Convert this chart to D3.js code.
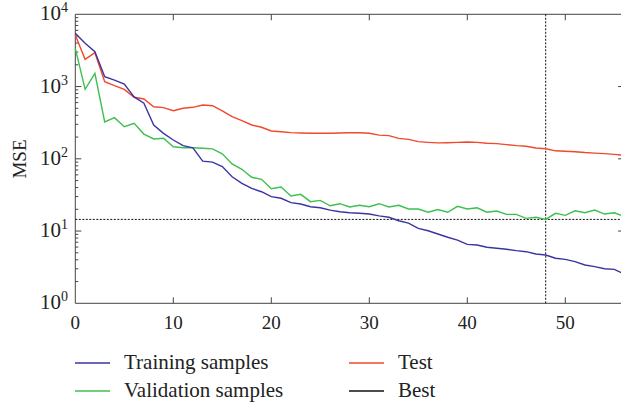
<!DOCTYPE html>
<html>
<head>
<meta charset="utf-8">
<script src="https://cdn.jsdelivr.net/npm/d3@7"></script>
<style>
  body { margin: 0; background: #fff; }
  svg { display: block; }
  text { font-family: "Liberation Serif", "Times New Roman", serif; fill: #222; }
</style>
</head>
<body>
<script>
// epochs 0..56
const epochs = d3.range(0, 57)

const training = [5460, 3980, 3030, 1370, 1230, 1085, 720, 590, 294, 225,
  182, 152, 142, 93, 90, 78, 56.5, 45.8, 39, 35,
  29.9, 28.4, 24.7, 23.7, 21.7, 21, 19.5, 18.5, 17.9, 17.6,
  17.2, 16.2, 15.5, 13.9, 12.9, 10.9, 10.1, 9.1, 8.2, 7.5,
  6.55, 6.4, 5.96, 5.77, 5.59, 5.35, 5.18, 4.81, 4.66, 4.2,
  4.06, 3.77, 3.39, 3.22, 3.01, 2.95, 2.55]

const validation = [3380, 916, 1525, 323, 371, 278, 310, 220, 188, 192,
  147, 142, 142, 140, 137, 117, 84.8, 71.5, 55.5, 52,
  38.5, 40.7, 30.5, 32.2, 25.5, 26.6, 22.4, 23.9, 21.5, 22.7,
  21.7, 23.9, 21.5, 22.7, 20.2, 20.2, 18.2, 19.9, 18.2, 22,
  20.2, 21, 18.2, 18.9, 17, 17, 15, 15.5, 14.5, 17.6,
  16.5, 19.1, 17.9, 19.5, 17.2, 17.9, 16]

const test = [5170, 2380, 2940, 1167, 1027, 915, 710, 673, 526, 510,
  463, 500, 516, 556, 543, 459, 383, 337, 294, 273,
  243, 237, 230, 228, 226, 226, 226, 228, 229, 229,
  226, 213, 209, 192, 186, 173, 169, 166, 167, 169,
  171, 169, 164, 162, 157, 152, 149, 141, 138, 129,
  127, 125, 122, 120, 118, 115, 112]

const bestEpoch = 48
const bestValue = 14.5

const xTicks = [0, 10, 20, 30, 40, 50]
const yPowers = [0, 1, 2, 3, 4]

const seriesNames = ['Training samples', 'Validation samples', 'Test', 'Best']
const seriesColors = ['#3a35a0', '#3cc04e', '#f0492b', '#111']

const width = 621, height = 404
const margin = {left: 75.3, top: 14.3, bottom: 303.3}

const svg = d3.select('body').append('svg')
  .attr('width', width)
  .attr('height', height)

const xScale = d3.scaleLinear().domain([0, 56]).range([margin.left, margin.left + 56 * 9.8])
const yScale = d3.scaleLog().domain([1, 1e4]).range([margin.bottom, margin.top])

const axisColor = '#444'
const minorVals = []
for (let p = 0; p < 4; p++) for (let m = 2; m <= 9; m++) minorVals.push(m * Math.pow(10, p))

// frame lines (left, bottom, top)
const x0 = xScale(0), x1 = xScale(56)
svg.append('path')
  .attr('d', `M${x1},${margin.bottom}H${x0}V${margin.top}H${x1}`)
  .attr('fill', 'none').attr('stroke', axisColor).attr('stroke-width', 1)

// x ticks bottom & top
svg.append('g').selectAll('line').data(xTicks.slice(1)).enter().append('line')
  .attr('x1', d => xScale(d)).attr('x2', d => xScale(d))
  .attr('y1', margin.bottom).attr('y2', margin.bottom - 6)
  .attr('stroke', axisColor)
svg.append('g').selectAll('line').data(xTicks.slice(1)).enter().append('line')
  .attr('x1', d => xScale(d)).attr('x2', d => xScale(d))
  .attr('y1', margin.top).attr('y2', margin.top + 6)
  .attr('stroke', axisColor)

svg.append('g').selectAll('text').data(xTicks).enter().append('text')
  .attr('x', d => xScale(d)).attr('y', 329)
  .attr('text-anchor', 'middle')
  .style('font-size', '19px')
  .text(d => d)

// y ticks left (major + minor), right (major)
const yMajors = yPowers.map(p => Math.pow(10, p))
svg.append('g').selectAll('line').data(yMajors.slice(1, 4)).enter().append('line')
  .attr('x1', x0).attr('x2', x0 + 6)
  .attr('y1', d => yScale(d)).attr('y2', d => yScale(d))
  .attr('stroke', axisColor)
svg.append('g').selectAll('line').data(minorVals).enter().append('line')
  .attr('x1', x0).attr('x2', x0 + 3)
  .attr('y1', d => yScale(d)).attr('y2', d => yScale(d))
  .attr('stroke', axisColor)
svg.append('g').selectAll('line').data(yMajors.slice(1, 4)).enter().append('line')
  .attr('x1', x1).attr('x2', x1 - 6)
  .attr('y1', d => yScale(d)).attr('y2', d => yScale(d))
  .attr('stroke', axisColor)

const yLab = svg.append('g').selectAll('text').data(yPowers).enter().append('text')
  .attr('x', 68).attr('y', d => yScale(Math.pow(10, d)) + 6)
  .attr('text-anchor', 'end')
  .style('font-size', '21px')
yLab.append('tspan').text('10')
yLab.append('tspan').attr('dy', -8).style('font-size', '14px').text(d => d)

svg.append('text')
  .attr('transform', 'translate(26,159) rotate(-90)')
  .attr('text-anchor', 'middle')
  .style('font-size', '19px')
  .text('MSE')

// best lines
svg.append('line')
  .attr('x1', x0).attr('x2', x1)
  .attr('y1', yScale(bestValue)).attr('y2', yScale(bestValue))
  .attr('stroke', seriesColors[3]).attr('stroke-dasharray', '2,1.5').attr('stroke-width', 1)
svg.append('line')
  .attr('x1', xScale(bestEpoch)).attr('x2', xScale(bestEpoch))
  .attr('y1', margin.top).attr('y2', margin.bottom)
  .attr('stroke', seriesColors[3]).attr('stroke-dasharray', '2,1.5').attr('stroke-width', 1)

const line = d3.line().x((d, i) => xScale(epochs[i])).y(d => yScale(d))

const series = [training, validation, test]
// draw order: test, validation, training on top
;[2, 1, 0].forEach(k => {
  svg.append('path')
    .datum(series[k])
    .attr('d', line)
    .attr('fill', 'none')
    .attr('stroke', seriesColors[k])
    .attr('stroke-width', 1.4)
})

// legend
const legendPos = [[75, 363], [75, 391], [349, 363], [349, 391]]
seriesNames.forEach((name, i) => {
  const [lx, ly] = legendPos[i]
  svg.append('line')
    .attr('x1', lx).attr('x2', lx + 35)
    .attr('y1', ly).attr('y2', ly)
    .attr('stroke', seriesColors[i]).attr('stroke-width', 1.4)
  svg.append('text')
    .attr('x', lx + 49).attr('y', ly + 6)
    .style('font-size', '21px')
    .text(name)
})
</script>
</body>
</html>
